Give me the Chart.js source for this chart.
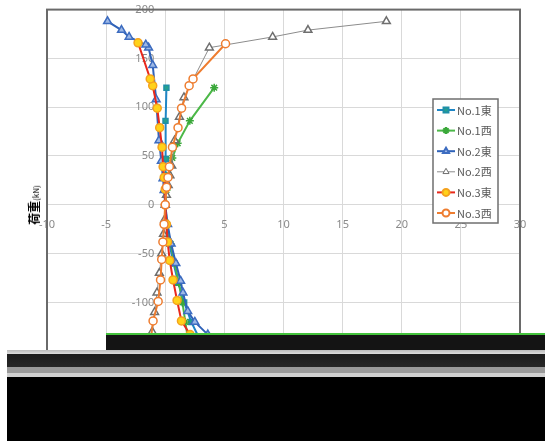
<!DOCTYPE html>
<html lang="ja">
<head>
<meta charset="UTF-8">
<title>荷重-変位</title>
<script src="https://cdn.jsdelivr.net/npm/chart.js"></script>
<style>
  html, body { margin: 0; padding: 0; background: #fff; }
  #wrap { position: relative; width: 545px; height: 441px; overflow: hidden; }
  #yTitle {
    position: absolute; left: 32px; top: 205px;
    transform: translate(-50%, -50%) rotate(-90deg);
    white-space: nowrap; font-family: "Noto Sans CJK JP", sans-serif; color: #000;
  }
  #yTitle b { font-size: 12px; }
  #yTitle span { font-size: 8px; }
  /* 元画像の下部が壊れている部分 */
  #g1 { position: absolute; left: 106px; top: 333px; width: 439px; height: 17px; background: #141414; border-top: 2px solid #44c23c; }
  #g2 {
    position: absolute; left: 7px; top: 350px; right: 0; bottom: 0;
    background: linear-gradient(to bottom, #bbb 0, #ddd 4px, #1c1c1c 4px, #262626 17px, #9a9a9a 17px, #9a9a9a 23px, #d0d0d0 23px, #d0d0d0 27px, #000 27px);
  }
</style>
</head>
<body>
<div id="wrap">
  <canvas id="chart" width="545" height="441"></canvas>
  <div id="yTitle"><b>荷重</b><span>(kN)</span></div>
  <div id="g1"></div>
  <div id="g2"></div>
</div>
<script>
// 軸の目盛
const xTicks = [-10, -5, 0, 5, 10, 15, 20, 25, 30];
const yTicks = [-200, -150, -100, -50, 0, 50, 100, 150, 200];

// 系列名
const seriesNames = ['No.1東', 'No.1西', 'No.2東', 'No.2西', 'No.3東', 'No.3西'];

// 各系列の値 (変位 mm, 荷重 kN)
const no1EastX = [2.8, 2.2, 1.6, 1.1, 0.7, 0.35, 0.1, 0, 0.02, 0.04, 0.05, 0.02, 0.1];
const no1EastY = [-135, -120, -100, -80, -60, -40, -20, 0, 15, 30, 47, 86, 120];

const no1WestX = [1.9, 1.7, 1.45, 1.15, 0.8, 0.45, 0.15, 0, 0.1, 0.3, 0.6, 1.05, 2.08, 4.14];
const no1WestY = [-136, -120, -100, -80, -60, -40, -20, 0, 15, 30, 48, 63, 86, 120];

const no2EastX = [5.1, 3.6, 2.5, 1.9, 1.5, 1.3, 0.9, 0.5, 0.2, 0, -0.1, -0.19, -0.33, -0.53, -0.77, -1.06, -1.41, -1.65, -3.06, -3.7, -4.88];
const no2EastY = [-147, -133, -120, -109, -90, -78, -60, -40, -20, 0, 15, 27, 45, 66, 108, 143, 161, 164, 172, 179, 188];

const no2WestX = [-1.6, -1.1, -0.9, -0.7, -0.5, -0.3, -0.15, -0.05, 0, 0.1, 0.25, 0.4, 0.55, 0.79, 1.2, 1.58, 3.73, 9.08, 12.07, 18.7];
const no2WestY = [-145, -130, -110, -90, -70, -50, -30, -15, 0, 10, 20, 30, 40, 66, 90, 110, 161, 172, 179, 188];

const no3EastX = [4.0, 2.1, 1.37, 1.0, 0.66, 0.38, 0.2, 0.1, 0, 0, -0.09, -0.18, -0.27, -0.47, -0.68, -1.06, -1.27, -2.3];
const no3EastY = [-148, -133, -119, -98, -77, -57, -38, -20, 0, 16, 28, 39, 59, 79, 99, 122, 129, 166];

const no3WestX = [-1.6, -1.2, -1.03, -0.6, -0.4, -0.3, -0.2, -0.1, 0, 0.11, 0.23, 0.35, 0.61, 1.08, 1.38, 2.02, 2.35, 5.1];
const no3WestY = [-150, -136, -119, -99, -77, -56, -38, -20, 0, 18, 28, 39, 59, 79, 99, 122, 129, 165];

function pts(xs, ys) {
  return xs.map((x, i) => ({ x: x, y: ys[i] }));
}

const styles = [
  { line: '#1f86c6', fill: '#25a18e', stroke: '#1f8fa8', point: 'rect', width: 2, r: 3.5 },
  { line: '#4cb848', fill: '#4cb848', stroke: '#3aa83a', point: 'star', width: 2, r: 4 },
  { line: '#2f62b8', fill: '#9db8e6', stroke: '#3d6cc0', point: 'triangle', width: 2, r: 4.5 },
  { line: '#8c8c8c', fill: '#ffffff', stroke: '#6f6f6f', point: 'triangle', width: 1, r: 4.5 },
  { line: '#e8281c', fill: '#ffd21a', stroke: '#f4a21e', point: 'circle', width: 2, r: 4 },
  { line: '#ee7d30', fill: '#ffffff', stroke: '#ee7d30', point: 'circle', width: 2, r: 4 }
];

const allX = [no1EastX, no1WestX, no2EastX, no2WestX, no3EastX, no3WestX];
const allY = [no1EastY, no1WestY, no2EastY, no2WestY, no3EastY, no3WestY];

const datasets = seriesNames.map((name, i) => ({
  label: name,
  data: pts(allX[i], allY[i]),
  showLine: true,
  borderColor: styles[i].line,
  borderWidth: styles[i].width,
  tension: 0,
  pointStyle: styles[i].point,
  pointRadius: styles[i].r,
  pointBackgroundColor: styles[i].fill,
  pointBorderColor: styles[i].stroke,
  pointBorderWidth: 1.5,
  order: seriesNames.length - i
}));

// プロットエリアの枠
const frame = {
  id: 'frame',
  afterDatasetsDraw(chart) {
    const a = chart.chartArea, ctx = chart.ctx;
    ctx.save();
    ctx.strokeStyle = '#6a6a6a';
    ctx.lineWidth = 2;
    ctx.strokeRect(a.left, a.top, a.right - a.left, a.bottom - a.top);
    ctx.restore();
  }
};

// 凡例 (プロットエリア内)
const boxLegend = {
  id: 'boxLegend',
  afterDraw(chart) {
    const ctx = chart.ctx;
    const x0 = 433, y0 = 99, w = 65, h = 124;
    ctx.save();
    ctx.fillStyle = '#fff';
    ctx.fillRect(x0, y0, w, h);
    ctx.strokeStyle = '#6f6f6f';
    ctx.lineWidth = 1.5;
    ctx.strokeRect(x0, y0, w, h);
    seriesNames.forEach((name, i) => {
      const s = styles[i];
      const y = y0 + 11 + i * 20.6;
      ctx.strokeStyle = s.line;
      ctx.lineWidth = s.width;
      ctx.beginPath();
      ctx.moveTo(x0 + 4, y);
      ctx.lineTo(x0 + 22, y);
      ctx.stroke();
      ctx.fillStyle = s.fill;
      ctx.strokeStyle = s.stroke;
      Chart.helpers.drawPoint(ctx, { pointStyle: s.point, radius: 3.5, rotation: 0, borderWidth: 1.5 }, x0 + 13, y);
      ctx.fillStyle = '#595959';
      ctx.font = '11px "Noto Sans CJK JP"';
      ctx.textBaseline = 'middle';
      ctx.fillText(name, x0 + 24, y + 0.5);
    });
    ctx.restore();
  }
};

new Chart(document.getElementById('chart'), {
  type: 'scatter',
  data: { datasets: datasets },
  options: {
    responsive: false,
    animation: false,
    layout: { padding: { left: 47, right: 25, top: 8, bottom: 41 } },
    plugins: { legend: { display: false }, tooltip: { enabled: false } },
    scales: {
      x: {
        type: 'linear',
        position: { y: 0 },
        min: -10, max: 30,
        afterFit: s => { s.height = 0; },
        afterBuildTicks: s => { s.ticks = xTicks.map(v => ({ value: v })); },
        grid: { color: '#d9d9d9', lineWidth: 1, drawTicks: false },
        border: { display: false },
        ticks: { padding: 13, color: '#8a8a8a', font: { family: 'Noto Sans', size: 11 }, maxRotation: 0 }
      },
      y: {
        type: 'linear',
        position: { x: 0 },
        min: -200, max: 200,
        afterFit: s => { s.width = 0; },
        afterBuildTicks: s => { s.ticks = yTicks.map(v => ({ value: v })); },
        grid: { color: '#d9d9d9', lineWidth: 1, drawTicks: false },
        border: { display: false },
        ticks: {
          color: '#8a8a8a', font: { family: 'Noto Sans', size: 11 },
          callback: v => v + '\u2002\u2002'
        }
      }
    }
  },
  plugins: [frame, boxLegend]
});
</script>
</body>
</html>
